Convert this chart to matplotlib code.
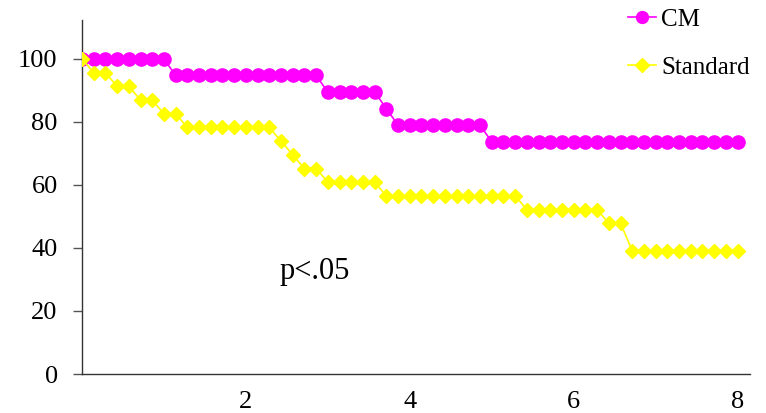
import numpy as np
import matplotlib.pyplot as plt

plt.rcParams['font.family'] = ['Liberation Serif', 'DejaVu Serif']

# weekly points over 8 units (57 points, step 1/7)
x = np.arange(57) / 7

# survival in % (CM: n=19, Standard: n=23)
cm_counts = [19] * 8 + [18] * 13 + [17] * 5 + [16] + [15] * 8 + [14] * 22
std_counts = ([23] + [22] * 2 + [21] * 2 + [20] * 2 + [19] * 2 + [18] * 8
              + [17] + [16] + [15] * 2 + [14] * 5 + [13] * 12 + [12] * 7
              + [11] * 2 + [9] * 10)
cm = np.array(cm_counts) / 19 * 100
standard = np.array(std_counts) / 23 * 100

x_ticks = [2, 4, 6, 8]
y_ticks = [0, 20, 40, 60, 80, 100]

fig = plt.figure(figsize=(7.66, 4.13), dpi=100)
ax = fig.add_axes([0.107, 0.0944, 0.872, 0.8576])

ax.plot(x, cm, color='#FF00FF', marker='o', markersize=9.5, lw=1.2,
        label='CM', zorder=2)
ax.plot(x, standard, color='#FFFF00', marker='D', markersize=7.5, lw=1.2,
        label='Standard', zorder=3)

ax.set_xlim(0, 8.15)
ax.set_ylim(0, 112.4)
ax.set_xticks(x_ticks)
ax.set_yticks(y_ticks)
ax.tick_params(axis='x', length=0, pad=12, labelsize=19)
ax.tick_params(axis='y', length=6.5, width=1, color='#555555', pad=11,
               labelsize=19)
for s in ['top', 'right']:
    ax.spines[s].set_visible(False)
for s in ['left', 'bottom']:
    ax.spines[s].set_color('#333333')
    ax.spines[s].set_linewidth(1)

ax.text(2.84, 32.4, 'p<.05', fontsize=22, ha='center', va='center')

fig.legend(loc='upper left', bbox_to_anchor=(625 / 766, 1 - 6 / 413),
           frameon=False, fontsize=18, labelspacing=1.02, handlelength=1.15,
           handletextpad=0.2, borderpad=0.1, borderaxespad=0,
           markerscale=0.9)

fig.savefig('out.png', dpi=100)
